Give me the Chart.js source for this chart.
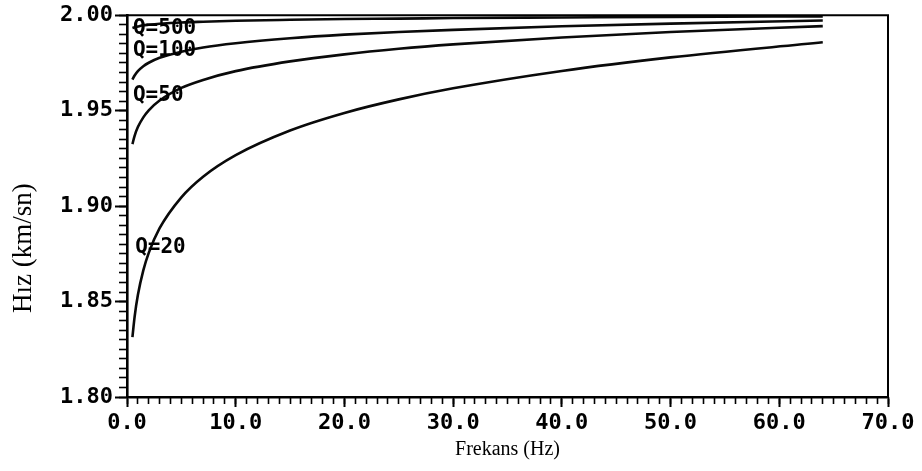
<!DOCTYPE html>
<html>
<head>
<meta charset="utf-8">
<script src="https://cdn.jsdelivr.net/npm/chart.js@4.4.1/dist/chart.umd.min.js"></script>
<style>
  html, body { margin: 0; padding: 0; background: #ffffff; }
  #wrap { width: 922px; height: 471px; position: relative; }
</style>
</head>
<body>
<div id="wrap"><canvas id="c" width="922" height="471"></canvas></div>
<script>
// ---- data ----
const freq = [0.5, 0.7, 1, 1.5, 2, 3, 5, 7, 10, 15, 20, 25, 30, 40, 50, 64];
const q500 = [1.9933, 1.9937, 1.9941, 1.9947, 1.9950, 1.9955, 1.9962, 1.9966, 1.9971, 1.9976, 1.9980, 1.9982, 1.9985, 1.9988, 1.9991, 1.9994];
const q100 = [1.9663, 1.9684, 1.9707, 1.9733, 1.9751, 1.9777, 1.9809, 1.9831, 1.9853, 1.9879, 1.9898, 1.9912, 1.9923, 1.9942, 1.9956, 1.9972];
const q50  = [1.9325, 1.9368, 1.9414, 1.9465, 1.9502, 1.9553, 1.9619, 1.9661, 1.9707, 1.9758, 1.9795, 1.9824, 1.9847, 1.9883, 1.9912, 1.9943];
const q20  = [1.8314, 1.8420, 1.8534, 1.8663, 1.8755, 1.8884, 1.9046, 1.9154, 1.9267, 1.9396, 1.9488, 1.9559, 1.9617, 1.9708, 1.9779, 1.9858];
const seriesNames = ['Q=500', 'Q=100', 'Q=50', 'Q=20'];
const xTickLabels = ['0.0', '10.0', '20.0', '30.0', '40.0', '50.0', '60.0', '70.0'];
const yTickLabels = ['1.80', '1.85', '1.90', '1.95', '2.00'];
const xTitle = 'Frekans (Hz)';
const yTitle = 'Hız (km/sn)';

const allSeries = [q500, q100, q50, q20];
const toPts = arr => freq.map((f, i) => ({ x: f, y: arr[i] }));

const tickFont = { family: "'DejaVu Sans Mono', 'Liberation Mono', monospace", size: 22, weight: 'bold' };

// curve label anchors (layout only)
const labelAnchors = {
  'Q=500': { x: 0.55, y: 1.9932 },
  'Q=100': { x: 0.55, y: 1.9813 },
  'Q=50':  { x: 0.55, y: 1.9578 },
  'Q=20':  { x: 0.75, y: 1.8781 }
};

const decorPlugin = {
  id: 'decor',
  afterDatasetsDraw(chart) {
    const { ctx, chartArea: a, scales } = chart;
    ctx.save();
    // frame top and right
    ctx.strokeStyle = '#000';
    ctx.lineWidth = 2;
    ctx.beginPath();
    ctx.moveTo(a.left, a.top);
    ctx.lineTo(a.right, a.top);
    ctx.lineTo(a.right, a.bottom);
    ctx.stroke();
    // curve labels
    ctx.fillStyle = '#000';
    ctx.font = "bold 21px 'DejaVu Sans Mono', monospace";
    ctx.textAlign = 'left';
    ctx.textBaseline = 'middle';
    seriesNames.forEach(n => {
      const p = labelAnchors[n];
      const px = scales.x.getPixelForValue(p.x);
      const py = scales.y.getPixelForValue(p.y);
      ctx.fillText(n, px, py);
    });
    // y-axis title
    ctx.translate(24, a.top + (a.bottom - a.top) * 0.61);
    ctx.rotate(-Math.PI / 2);
    ctx.font = "27px 'Liberation Serif', 'Times New Roman', serif";
    ctx.textAlign = 'center';
    ctx.fillText(yTitle, 0, 0);
    ctx.restore();
  }
};

new Chart(document.getElementById('c'), {
  type: 'line',
  data: {
    datasets: allSeries.map((s, i) => ({
      label: seriesNames[i],
      data: toPts(s),
      borderColor: '#0a0a0a',
      borderWidth: 2.6,
      pointRadius: 0,
      fill: false,
      cubicInterpolationMode: 'monotone',
      xAxisID: 'x',
      yAxisID: 'y'
    }))
  },
  options: {
    responsive: false,
    animation: false,
    devicePixelRatio: 1,
    layout: { padding: { top: 13, right: 34, left: 0, bottom: 0 } },
    plugins: { legend: { display: false }, tooltip: { enabled: false } },
    scales: {
      x: {
        type: 'linear', position: 'bottom', weight: 1,
        min: 0, max: 70,
        ticks: {
          stepSize: 10, autoSkip: false, maxRotation: 0, padding: 3,
          color: '#000', font: tickFont,
          callback: (v) => { const i = Math.round(v / 10); return xTickLabels[i] !== undefined && Math.abs(v - i * 10) < 1e-6 ? xTickLabels[i] : ''; }
        },
        grid: { drawOnChartArea: false, drawTicks: true, tickLength: 10, tickWidth: 2, tickColor: '#000' },
        border: { display: true, color: '#000', width: 2.6 },
        title: { display: true, text: xTitle, color: '#000', font: { family: "'Liberation Serif', 'Times New Roman', serif", size: 20 }, padding: { top: 0, bottom: 9 } },
        afterFit: (s) => { s.height = 74; }
      },
      xMinor: {
        type: 'linear', position: 'bottom', weight: 0,
        min: 0, max: 70,
        ticks: { display: false, stepSize: 1, autoSkip: false, maxTicksLimit: 200 },
        grid: { drawOnChartArea: false, drawTicks: true, tickLength: 7, tickWidth: 1.6, tickColor: '#000' },
        border: { display: false },
        afterFit: (s) => { s.height = 0; }
      },
      y: {
        type: 'linear', position: 'left', weight: 1,
        min: 1.8, max: 2.0,
        ticks: {
          stepSize: 0.05, autoSkip: false, padding: 2,
          color: '#000', font: tickFont,
          callback: (v) => { const i = Math.round((v - 1.8) / 0.05); return yTickLabels[i] !== undefined ? yTickLabels[i] : ''; }
        },
        grid: { drawOnChartArea: false, drawTicks: true, tickLength: 12, tickWidth: 2, tickColor: '#000' },
        border: { display: true, color: '#000', width: 2.6 },
        afterFit: (s) => { s.width = 127; }
      },
      yMinor: {
        type: 'linear', position: 'left', weight: 0,
        min: 1.8, max: 2.0,
        ticks: { display: false, stepSize: 0.005, autoSkip: false, maxTicksLimit: 200 },
        grid: { drawOnChartArea: false, drawTicks: true, tickLength: 8, tickWidth: 1.6, tickColor: '#000' },
        border: { display: false },
        afterFit: (s) => { s.width = 0; }
      }
    }
  },
  plugins: [decorPlugin]
});
</script>
</body>
</html>
